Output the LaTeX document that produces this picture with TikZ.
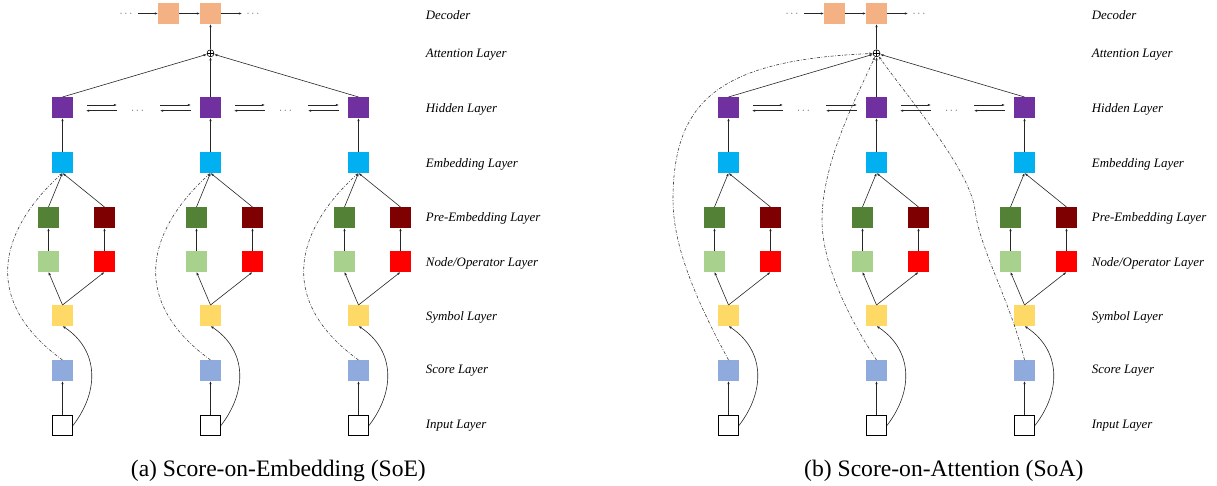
\documentclass[tikz,border=0pt]{standalone}
\usepackage{fontspec}
\setmainfont{Liberation Serif}
\usetikzlibrary{arrows.meta}
\definecolor{decc}{HTML}{F4B183}
\definecolor{hidc}{HTML}{7030A0}
\definecolor{embc}{HTML}{00B0F0}
\definecolor{pregc}{HTML}{538135}
\definecolor{prerc}{HTML}{7F0000}
\definecolor{nodgc}{HTML}{A9D18E}
\definecolor{nodrc}{HTML}{FF0000}
\definecolor{symc}{HTML}{FFD966}
\definecolor{scoc}{HTML}{8FAADC}
\tikzset{
  box/.style={minimum size=21pt, inner sep=0pt, outer sep=0pt, draw=none},
  inbox/.style={minimum size=20pt, inner sep=0pt, draw=black, line width=0.9pt, fill=white},
  arr/.style={-{Latex[length=3.2pt,width=2.4pt]}, line width=0.6pt, draw=black!85},
  darr/.style={-{Latex[length=3.2pt,width=2.4pt]}, line width=0.6pt, draw=black!75, dash pattern=on 3pt off 1.6pt on 0.7pt off 1.6pt},
  lab/.style={anchor=west, font=\fontsize{12.9}{14}\selectfont\itshape, inner sep=0pt},
  dots/.style={font=\fontsize{11}{12}\selectfont, inner sep=0pt, text=black!65},
  oplusn/.style={circle, draw=black, line width=0.6pt, minimum size=7pt, inner sep=0pt,
    path picture={\draw[line width=0.5pt] (path picture bounding box.north) -- (path picture bounding box.south)
      (path picture bounding box.west) -- (path picture bounding box.east);}},
  captext/.style={anchor=base west, font=\fontsize{23.6}{26}\selectfont, inner sep=0pt}
}
\begin{document}
\begin{tikzpicture}[x=1pt,y=-1pt]
\useasboundingbox (0,0) rectangle (1217,486);
\foreach \p/\ox in {a/0,b/666} {
  % decoder
  \node[box,fill=decc] (\p-dec1) at ({\ox+168.5},13.5) {};
  \node[box,fill=decc] (\p-dec2) at ({\ox+210.5},13.5) {};
  \node[dots] (\p-dl) at ({\ox+126},14.5) {$\cdots$};
  \node[dots] (\p-dr) at ({\ox+253},14.5) {$\cdots$};
  \coordinate (\p-dls) at ({\ox+138},13.5);
  \coordinate (\p-dre) at ({\ox+242},13.5);
  \draw[arr] (\p-dls) -- (\p-dec1.west);
  \draw[arr] (\p-dec1.east) -- (\p-dec2.west);
  \draw[arr] (\p-dec2.east) -- (\p-dre);
  \node[oplusn] (\p-att) at ({\ox+210.5},53.3) {};
  \draw[arr] (\p-att.north) -- (\p-dec2.south);
  \foreach \c/\cx in {1/62.5,2/210.5,3/358.5} {
    \node[inbox] (\p\c-in) at ({\ox+\cx},425.5) {};
    \node[box,fill=scoc] (\p\c-sco) at ({\ox+\cx},370.5) {};
    \node[box,fill=symc] (\p\c-sym) at ({\ox+\cx},315.5) {};
    \node[box,fill=nodgc] (\p\c-ng) at ({\ox+\cx-14},261.5) {};
    \node[box,fill=nodrc] (\p\c-nr) at ({\ox+\cx+42},261.5) {};
    \node[box,fill=pregc] (\p\c-pg) at ({\ox+\cx-14},217.5) {};
    \node[box,fill=prerc] (\p\c-pr) at ({\ox+\cx+42},217.5) {};
    \node[box,fill=embc] (\p\c-emb) at ({\ox+\cx},162.5) {};
    \node[box,fill=hidc] (\p\c-hid) at ({\ox+\cx},107.5) {};
    \draw[arr] (\p\c-in.north) -- (\p\c-sco.south);
    \draw[arr] (\p\c-in.east) .. controls +(27,-35) and +(36,24) .. (\p\c-sym.south);
    \draw[arr] (\p\c-sym.north) -- (\p\c-ng.south);
    \draw[arr] (\p\c-sym.north) -- (\p\c-nr.south);
    \draw[arr] (\p\c-ng.north) -- (\p\c-pg.south);
    \draw[arr] (\p\c-nr.north) -- (\p\c-pr.south);
    \draw[arr] (\p\c-pg.north) -- (\p\c-emb.south);
    \draw[arr] (\p\c-pr.north) -- (\p\c-emb.south);
    \draw[arr] (\p\c-emb.north) -- (\p\c-hid.south);
    \draw[arr] (\p\c-hid.north) -- (\p-att);
  }
  % hidden-layer bidirectional arrows
  \foreach \c/\cx in {1/62.5,2/210.5} {
    \draw[arr] ({\ox+\cx+24.5},105) -- ({\ox+\cx+54.5},105);
    \draw[arr] ({\ox+\cx+54.5},110.7) -- ({\ox+\cx+23.5},110.7);
    \node[dots] at ({\ox+\cx+75},111) {$\cdots$};
    \draw[arr] ({\ox+\cx+97.5},105) -- ({\ox+\cx+128.5},105);
    \draw[arr] ({\ox+\cx+128.5},110.7) -- ({\ox+\cx+97.5},110.7);
  }
  % labels
  \node[lab] (\p-l1) at ({\ox+425.7},15.5) {Decoder};
  \node[lab] (\p-l2) at ({\ox+425.7},54.5) {Attention Layer};
  \node[lab] (\p-l3) at ({\ox+425.7},109.5) {Hidden Layer};
  \node[lab] (\p-l4) at ({\ox+425.7},164) {Embedding Layer};
  \node[lab] (\p-l5) at ({\ox+425.7},218.5) {Pre-Embedding Layer};
  \node[lab] (\p-l6) at ({\ox+425.7},263) {Node/Operator Layer};
  \node[lab] (\p-l7) at ({\ox+425.7},317.5) {Symbol Layer};
  \node[lab] (\p-l8) at ({\ox+425.7},371) {Score Layer};
  \node[lab] (\p-l9) at ({\ox+425.7},426) {Input Layer};
}
% (a) score-on-embedding dash-dot links
\foreach \c in {1,2,3} {
  \draw[darr] (a\c-sco.north) .. controls +(-82.5,-60) and +(-62.5,57) .. (a\c-emb.south);
}
% (b) score-on-attention dash-dot links
\draw[darr] (b1-sco.north) .. controls (700,307) and (673,250) .. (673,200) .. controls (673,100) and (720,60) .. (b-att);
\draw[darr] (b2-sco.north) .. controls (850,320) and (822,265) .. (822,220) .. controls (822,160) and (860,90) .. (b-att);
\draw[darr] (b3-sco.north) .. controls (1010,300) and (980,250) .. (975,210) .. controls (970,170) and (910,100) .. (b-att);
% captions
\node[captext] (capa) at (130.7,476) {(a) Score-on-Embedding (SoE)};
\node[captext] (capb) at (804,476) {(b) Score-on-Attention (SoA)};
\end{tikzpicture}
\end{document}
